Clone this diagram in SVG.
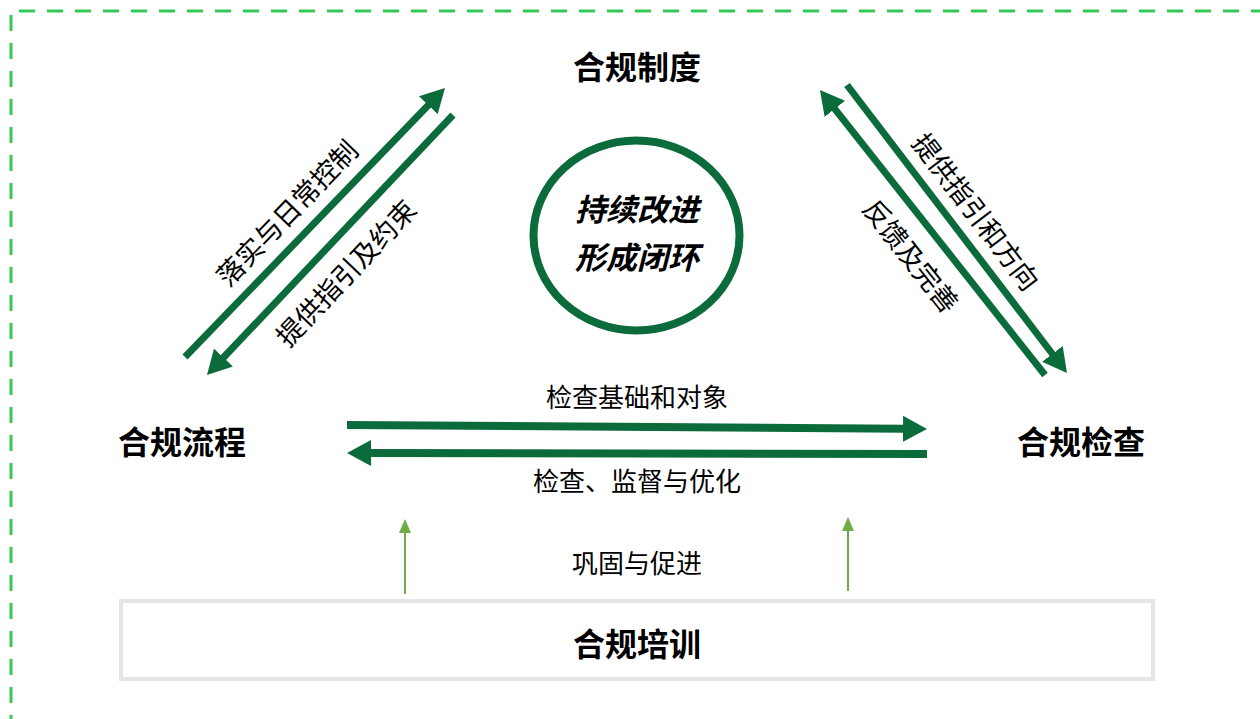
<svg xmlns="http://www.w3.org/2000/svg" width="1260" height="719" viewBox="0 0 1260 719">
<style>
.title{font-family:"Noto Sans CJK SC","Noto Sans",sans-serif;font-weight:bold;font-size:32px;fill:#000;text-anchor:middle;dominant-baseline:central}
.lbl{font-family:"Noto Sans CJK SC","Noto Sans",sans-serif;font-size:26px;fill:#000;text-anchor:middle;dominant-baseline:central}
.dlbl{font-family:"Noto Sans CJK SC","Noto Sans",sans-serif;font-size:27px;fill:#000;text-anchor:middle;dominant-baseline:central}
.core{font-family:"Noto Sans CJK SC","Noto Sans",sans-serif;font-weight:bold;font-style:italic;font-size:31px;fill:#000;text-anchor:middle;dominant-baseline:central}
.big{stroke:#0b6b3a;fill:none;marker-end:url(#ah)}
.small{stroke:#70ad47;stroke-width:2;fill:none;marker-end:url(#ahs)}
.dash{stroke:#36c855;stroke-width:3;stroke-dasharray:16 12;fill:none}
</style>
<defs>
<marker id="ah" markerUnits="userSpaceOnUse" markerWidth="24" markerHeight="26" refX="2" refY="13" orient="auto">
<path d="M0,0 L24,13 L0,26 z" fill="#0b6b3a"/>
</marker>
<marker id="ahs" markerUnits="userSpaceOnUse" markerWidth="14" markerHeight="12" refX="1" refY="6" orient="auto">
<path d="M0,0 L14,6 L0,12 z" fill="#70ad47"/>
</marker>
</defs>
<rect width="1260" height="719" fill="#fff"/>
<g id="frame">
<line class="dash" x1="19" y1="11" x2="1260" y2="11"/>
<line class="dash" x1="11" y1="15" x2="11" y2="719"/>
</g>
<g id="connectors">
<line class="big" stroke-width="7" x1="185" y1="357" x2="429.7" y2="103.8"/>
<line class="big" stroke-width="7" x1="453" y1="115" x2="222.1" y2="359"/>
<line class="big" stroke-width="7" x1="1045" y1="375" x2="833.6" y2="107.3"/>
<line class="big" stroke-width="7" x1="847" y1="85" x2="1053.6" y2="355.5"/>
<line class="big" stroke-width="8" x1="347" y1="425" x2="905" y2="428.8"/>
<line class="big" stroke-width="8" x1="927" y1="454" x2="369" y2="453"/>
<line class="small" x1="405" y1="594" x2="405" y2="532"/>
<line class="small" x1="848" y1="591" x2="848" y2="530"/>
<text class="dlbl" transform="translate(286,212) rotate(-46)">落实与日常控制</text>
<text class="dlbl" transform="translate(345,272) rotate(-46.6)">提供指引及约束</text>
<text class="dlbl" transform="translate(977,211) rotate(52.6)">提供指引和方向</text>
<text class="dlbl" transform="translate(912,255) rotate(51.7)">反馈及完善</text>
<text class="lbl" x="637" y="395">检查基础和对象</text>
<text class="lbl" x="637" y="479">检查、监督与优化</text>
<text class="lbl" x="637" y="561">巩固与促进</text>
</g>
<g id="node-zhidu">
<text class="title" x="637" y="65">合规制度</text>
</g>
<g id="node-liucheng">
<text class="title" x="182" y="440">合规流程</text>
</g>
<g id="node-jiancha">
<text class="title" x="1081" y="440">合规检查</text>
</g>
<g id="node-core">
<ellipse cx="636.5" cy="235.5" rx="103" ry="95" fill="#fff" stroke="#0b6b3a" stroke-width="8"/>
<text class="core" x="637" y="207">持续改进</text>
<text class="core" x="637" y="255">形成闭环</text>
</g>
<g id="node-peixun">
<rect x="121" y="601" width="1032" height="78" fill="#fff" stroke="#e6e6e6" stroke-width="4"/>
<text class="title" x="637" y="642">合规培训</text>
</g>
</svg>
